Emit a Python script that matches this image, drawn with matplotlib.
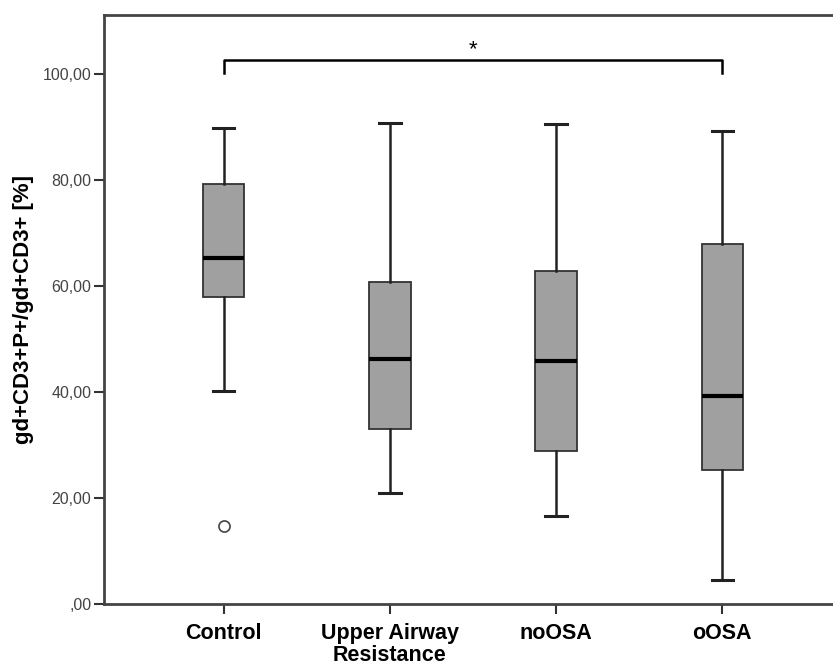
import numpy as np
import matplotlib.pyplot as plt

plt.rcParams['font.family'] = ['Liberation Sans', 'DejaVu Sans']

groups = ['Control', 'Upper Airway\nResistance', 'noOSA', 'oOSA']
whisk_hi = [89.8, 90.8, 90.6, 89.3]
q3 = [79.3, 60.8, 62.9, 67.9]
median = [65.2, 46.2, 45.9, 39.2]
q1 = [58.0, 33.1, 28.8, 25.3]
whisk_lo = [40.2, 21.0, 16.6, 4.6]
outliers = [[14.7], [], [], []]

ytick_vals = [0, 20, 40, 60, 80, 100]
ytick_labels = [',00', '20,00', '40,00', '60,00', '80,00', '100,00']

stats = []
for i in range(len(groups)):
    stats.append(dict(med=median[i], q1=q1[i], q3=q3[i],
                      whislo=whisk_lo[i], whishi=whisk_hi[i],
                      fliers=outliers[i], label=groups[i]))

fig = plt.figure(figsize=(8.33, 6.65), dpi=100)
ax = fig.add_axes([104 / 833, 61 / 665, 738 / 833, 589.5 / 665])

pos = np.arange(len(groups))
ax.bxp(stats, positions=pos, widths=0.25, capwidths=0.13, patch_artist=True,
       boxprops=dict(facecolor='#a0a0a0', edgecolor='#333333', linewidth=1.3),
       medianprops=dict(color='black', linewidth=3),
       whiskerprops=dict(color='#222222', linewidth=1.8),
       capprops=dict(color='#222222', linewidth=2.2),
       flierprops=dict(marker='o', markersize=8, markerfacecolor='white',
                       markeredgecolor='#444444', markeredgewidth=1.2))

# significance bracket Control vs oOSA
ax.plot([0, 0, 3, 3], [100.2, 102.6, 102.6, 100.2], color='black', lw=1.8)
ax.text(1.5, 104.6, '*', ha='center', va='center', fontsize=16)

ax.set_xlim(-0.72, 3.72)
ax.set_ylim(0, 111.2)
ax.set_yticks(ytick_vals)
ax.set_yticklabels(ytick_labels, fontsize=11.5, color='#444444')
ax.set_xticks(pos)
ax.set_xticklabels(groups, fontsize=15.5, fontweight='bold', linespacing=1.05)
ax.tick_params(axis='both', direction='out', length=7, width=1.5, color='#333333')
ax.tick_params(axis='y', pad=2)
ax.tick_params(axis='x', pad=7)
ax.set_ylabel('gd+CD3+P+/gd+CD3+ [%]', fontsize=16, fontweight='bold', labelpad=6)

for s in ax.spines.values():
    s.set_color('#444444')
    s.set_linewidth(2)

fig.savefig('out.png', dpi=100)
